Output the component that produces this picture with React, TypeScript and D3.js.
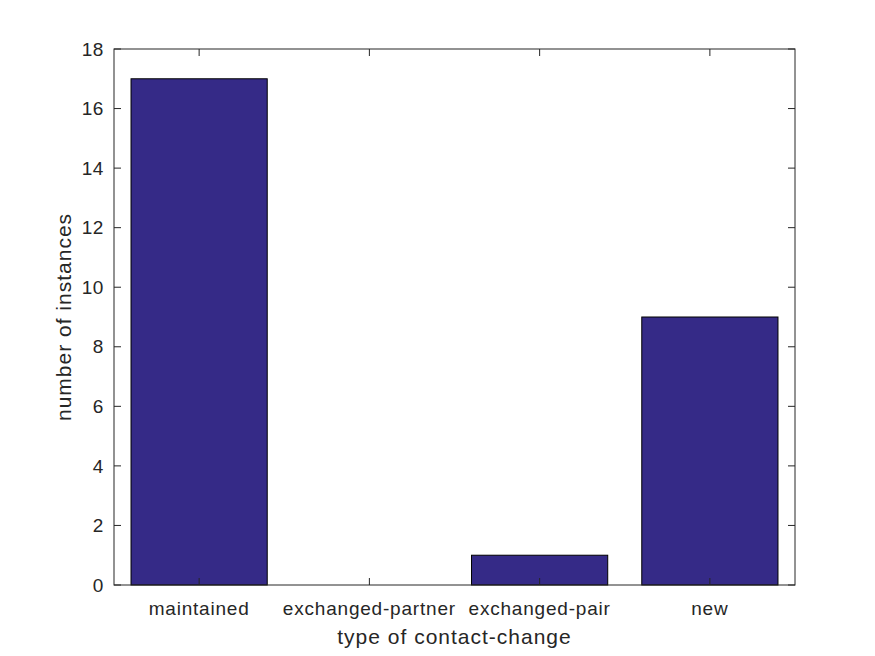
import React from "react";
import * as d3 from "d3";

const categories = ["maintained", "exchanged-partner", "exchanged-pair", "new"];
const values = [17, 0, 1, 9];
const yTicks = [0, 2, 4, 6, 8, 10, 12, 14, 16, 18];

export default function App() {
  const W = 875, H = 656;
  const L = 114, R = 795, T = 49, B = 585;
  const x = d3.scaleLinear().domain([0.5, 4.5]).range([L, R]);
  const y = d3.scaleLinear().domain([0, 18]).range([B, T]);
  const bw = x(1.4) - x(0.6);
  const ax = "#262626";
  const font = "Liberation Sans, Arial, sans-serif";
  const tl = 7;
  return (
    <svg width={W} height={H} style={{ position: "absolute", left: 0, top: 0, background: "#fff" }}>
      <rect x={0} y={0} width={W} height={H} fill="#fff" />
      {values.map((v, i) =>
        v > 0 ? (
          <rect key={i} x={x(i + 1) - bw / 2} y={y(v)} width={bw} height={y(0) - y(v)}
            fill="#352a87" stroke="#000" strokeWidth={1} />
        ) : null
      )}
      <rect x={L} y={T} width={R - L} height={B - T} fill="none" stroke={ax} strokeWidth={1} />
      {yTicks.map((t) => (
        <g key={t}>
          <line x1={L} x2={L + tl} y1={y(t)} y2={y(t)} stroke={ax} />
          <line x1={R} x2={R - tl} y1={y(t)} y2={y(t)} stroke={ax} />
          <text x={L - 10} y={y(t)} dy="0.35em" textAnchor="end" fontFamily={font} fontSize={19} letterSpacing={0.6} fill={ax}>{t}</text>
        </g>
      ))}
      {categories.map((c, i) => (
        <g key={c}>
          <line x1={x(i + 1)} x2={x(i + 1)} y1={B} y2={B - tl} stroke={ax} />
          <line x1={x(i + 1)} x2={x(i + 1)} y1={T} y2={T + tl} stroke={ax} />
          <text x={x(i + 1)} y={B + 30} textAnchor="middle" fontFamily={font} fontSize={19} letterSpacing={0.8} fill={ax}>{c}</text>
        </g>
      ))}
      <text x={(L + R) / 2} y={B + 59} textAnchor="middle" fontFamily={font} fontSize={21} letterSpacing={1} fill={ax}>type of contact-change</text>
      <text transform={`translate(${L - 43},${(T + B) / 2}) rotate(-90)`} textAnchor="middle" fontFamily={font} fontSize={21} letterSpacing={1} fill={ax}>number of instances</text>
    </svg>
  );
}
